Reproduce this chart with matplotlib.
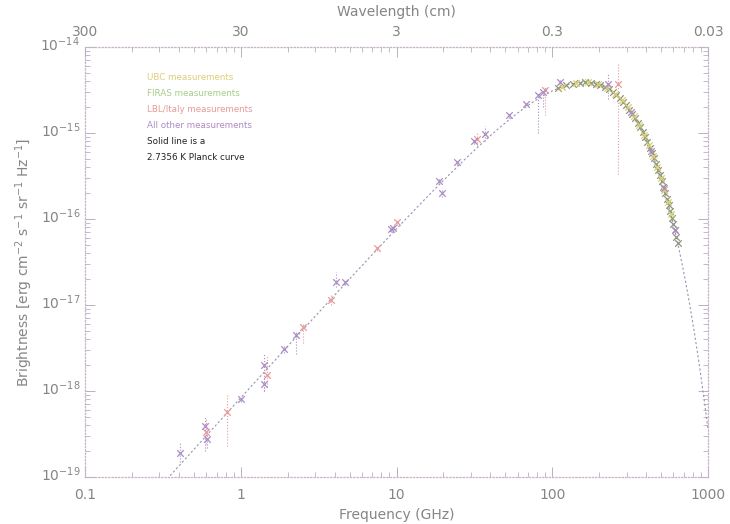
import numpy as np
import matplotlib
matplotlib.use("Agg")
import matplotlib.pyplot as plt
import matplotlib.transforms as mtransforms
from matplotlib.ticker import FixedLocator, FixedFormatter, LogLocator, NullFormatter

# --- data (frequency in GHz, brightness in erg cm-2 s-1 sr-1 Hz-1)
T_CMB = 2.7356

firas_freq = [109, 122, 136, 150, 163, 177, 190, 204, 218, 231, 245, 258, 272, 286,
              299, 313, 326, 340, 354, 367, 381, 394, 408, 422, 435, 449, 462, 476,
              490, 503, 517, 530, 544, 558, 571, 585, 598, 612, 626, 639]
firas_bright = [3.31e-15, 3.57e-15, 3.76e-15, 3.86e-15, 3.88e-15, 3.84e-15, 3.74e-15,
                3.60e-15, 3.41e-15, 3.22e-15, 2.99e-15, 2.77e-15, 2.54e-15, 2.30e-15,
                2.09e-15, 1.87e-15, 1.68e-15, 1.49e-15, 1.32e-15, 1.17e-15, 1.02e-15,
                9.00e-16, 7.81e-16, 6.77e-16, 5.90e-16, 5.07e-16, 4.40e-16, 3.76e-16,
                3.21e-16, 2.77e-16, 2.35e-16, 2.02e-16, 1.70e-16, 1.44e-16, 1.23e-16,
                1.03e-16, 8.78e-17, 7.36e-17, 6.17e-17, 5.22e-17]

ubc_freq = [116, 143, 170, 197, 224, 252, 279, 306, 333, 360, 388, 415, 442, 469,
            496, 524, 551, 578]
ubc_bright = [3.45e-15, 3.81e-15, 3.87e-15, 3.67e-15, 3.32e-15, 2.87e-15, 2.42e-15,
              1.98e-15, 1.58e-15, 1.24e-15, 9.6e-16, 7.27e-16, 5.47e-16, 4.07e-16,
              2.98e-16, 2.18e-16, 1.56e-16, 1.13e-16]

lbl_freq = [0.6, 0.82, 1.47, 2.5, 3.8, 7.5, 10.0, 33.0, 90.0, 265.0]
lbl_bright = [3.3e-19, 5.7e-19, 1.55e-18, 5.5e-18, 1.15e-17, 4.6e-17, 9.3e-17,
              8.5e-16, 3.2e-15, 3.7e-15]
lbl_low = [2.4e-19, 2.3e-19, 1.1e-18, 3.6e-18, 1.0e-17, 4.2e-17, 8.6e-17,
           7.0e-16, 1.6e-15, 3.3e-16]
lbl_high = [4.8e-19, 8.9e-19, 2.6e-18, 6.2e-18, 1.3e-17, 5.0e-17, 1.0e-16,
            1.0e-15, 3.5e-15, 6.7e-15]

other_freq = [0.408, 0.59, 0.61, 1.0, 1.40, 1.42, 1.9, 2.26, 4.09, 4.67, 9.2, 9.5,
              18.8, 19.5, 24.4, 31.4, 37.0, 52.7, 67.8, 81.0, 87.0, 112.0, 228.0,
              320.0, 430.0, 520.0, 610.0]
other_bright = [1.9e-19, 3.9e-19, 2.8e-19, 8.1e-19, 2.0e-18, 1.2e-18, 3.1e-18,
                4.5e-18, 1.86e-17, 1.86e-17, 7.6e-17, 7.8e-17, 2.8e-16, 2.0e-16,
                4.6e-16, 8.0e-16, 9.7e-16, 1.6e-15, 2.2e-15, 2.76e-15, 3.0e-15,
                3.9e-15, 3.7e-15, 1.75e-15, 6.2e-16, 2.3e-16, 7.5e-17]
other_low = [1.5e-19, 2.0e-19, 2.2e-19, 7.5e-19, 1.0e-18, 1.0e-18, 2.8e-18,
             2.7e-18, 1.6e-17, 1.7e-17, 7.0e-17, 7.2e-17, 2.6e-16, 1.8e-16,
             4.3e-16, 7.5e-16, 8.0e-16, 1.5e-15, 2.1e-15, 1.0e-15, 2.0e-15,
             3.7e-15, 2.5e-15, 1.6e-15, 5.7e-16, 2.1e-16, 6.8e-17]
other_high = [2.5e-19, 5.0e-19, 3.5e-19, 8.7e-19, 2.7e-18, 1.5e-18, 3.4e-18,
              5.0e-18, 2.4e-17, 2.0e-17, 8.2e-17, 8.4e-17, 3.0e-16, 2.3e-16,
              4.9e-16, 8.6e-16, 1.2e-15, 1.7e-15, 2.3e-15, 2.9e-15, 3.2e-15,
              4.1e-15, 4.8e-15, 1.9e-15, 6.7e-16, 2.5e-16, 8.2e-17]

freq_ticks = [0.1, 1, 10, 100, 1000]
freq_labels = ["0.1", "1", "10", "100", "1000"]
wave_labels = ["300", "30", "3", "0.3", "0.03"]

legend_lines = ["UBC measurements", "FIRAS measurements", "LBL/Italy measurements",
                "All other measurements", "Solid line is a", "2.7356 K Planck curve"]

c_ubc = "#dccf78"
c_firas = "#a8cc88"
c_lbl = "#e89a9a"
c_other = "#ac8cc4"
c_text = "#858585"

# Planck curve for T_CMB
h, k, c = 6.626e-27, 1.381e-16, 2.998e10
nu = np.logspace(-1, 3, 600) * 1e9
planck = 2 * h * nu**3 / c**2 / (np.exp(h * nu / (k * T_CMB)) - 1)

fig = plt.figure(figsize=(7.3, 5.24), dpi=100)
ax = fig.add_axes([85 / 730, 47 / 524, 623 / 730, 430 / 524])

ax.plot(nu / 1e9, planck, color="#9a94b4", lw=0.8, ls=(0, (2, 2)), zorder=2)


def errs(val, lo, hi):
    val = np.array(val)
    return [val - np.array(lo), np.array(hi) - val]


for f, b, lo, hi, col in [(lbl_freq, lbl_bright, lbl_low, lbl_high, c_lbl),
                          (other_freq, other_bright, other_low, other_high, c_other)]:
    eb = ax.errorbar(f, b, yerr=errs(b, lo, hi), fmt="none", ecolor=col,
                     elinewidth=0.8, zorder=3)
    eb[2][0].set_linestyle(":")

ax.scatter(firas_freq, firas_bright, marker="x", s=22, lw=0.9, color="#8c967a", zorder=4)
ax.scatter(ubc_freq, ubc_bright, marker="x", s=22, lw=0.9, color=c_ubc, zorder=4)
ax.scatter(lbl_freq, lbl_bright, marker="x", s=22, lw=0.9, color=c_lbl, zorder=5)
ax.scatter(other_freq, other_bright, marker="x", s=22, lw=0.9, color=c_other, zorder=5)

ax.set_xscale("log")
ax.set_yscale("log")
ax.set_xlim(0.1, 1000)
ax.set_ylim(1e-19, 1e-14)

ax.xaxis.set_major_locator(FixedLocator(freq_ticks))
ax.xaxis.set_major_formatter(FixedFormatter(freq_labels))
ax.xaxis.set_minor_formatter(NullFormatter())
ax.yaxis.set_major_locator(FixedLocator([1e-19, 1e-18, 1e-17, 1e-16, 1e-15, 1e-14]))
ax.yaxis.set_minor_locator(LogLocator(base=10, subs=np.arange(2, 10)))
ax.yaxis.set_minor_formatter(NullFormatter())

ax.tick_params(which="both", direction="in", top=False, right=True,
               colors="#b8b0c0", labelcolor=c_text, labelsize=10)
ax.tick_params(axis="x", which="major", pad=8)
ax.tick_params(which="major", length=7, width=0.7)
ax.tick_params(which="minor", length=3.5, width=0.6)
for sp in ax.spines.values():
    sp.set_linestyle(":")
    sp.set_color("#c8b4c8")
    sp.set_linewidth(0.9)

# y tick labels sit a little above their ticks, as in the original
shift = mtransforms.ScaledTranslation(0, 3 / 72, fig.dpi_scale_trans)
for lab in ax.get_yticklabels():
    lab.set_transform(lab.get_transform() + shift)

ax2 = ax.twiny()
ax2.set_xscale("log")
ax2.set_xlim(ax.get_xlim())
ax2.xaxis.set_major_locator(FixedLocator(freq_ticks))
ax2.xaxis.set_major_formatter(FixedFormatter(wave_labels))
ax2.xaxis.set_minor_formatter(NullFormatter())
ax2.tick_params(which="both", direction="in", colors="#b8b0c0", labelcolor=c_text,
                labelsize=10, pad=6)
ax2.tick_params(which="major", length=7, width=0.7)
ax2.tick_params(which="minor", length=3.5, width=0.6)
for sp in ax2.spines.values():
    sp.set_visible(False)

ax.set_xlabel("Frequency (GHz)", color=c_text, fontsize=10, labelpad=4)
ax2.set_xlabel("Wavelength (cm)", color=c_text, fontsize=10, labelpad=6)
ax.set_ylabel(r"Brightness [erg cm$^{-2}$ s$^{-1}$ sr$^{-1}$ Hz$^{-1}$]",
              color=c_text, fontsize=10, labelpad=4)

text_cols = [c_ubc, c_firas, c_lbl, c_other, "#222222", "#222222"]
for i, (line, col) in enumerate(zip(legend_lines, text_cols)):
    ax.text(0.099, 0.93 - i * 0.0375, line, transform=ax.transAxes,
            color=col, fontsize=6.3, va="center", ha="left")

fig.savefig("out.png", dpi=100)
